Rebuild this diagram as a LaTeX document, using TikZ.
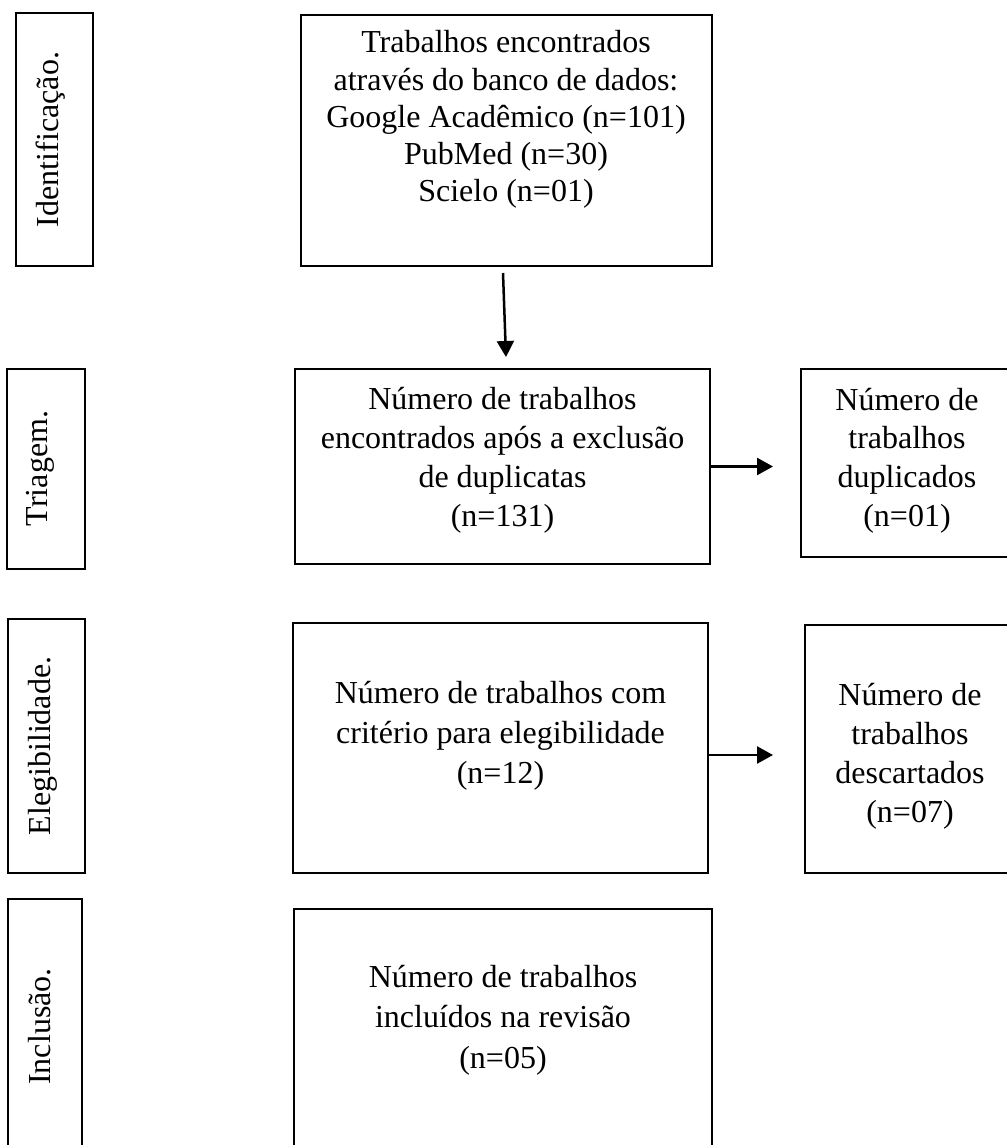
\documentclass[tikz,border=0pt]{standalone}
\usepackage{fontspec}
\setmainfont{Liberation Serif}
\usetikzlibrary{arrows.meta,calc}
\newcommand{\mylines}[1]{\begin{tabular}[t]{@{}c@{}}#1\end{tabular}}
\begin{document}
\begin{tikzpicture}[x=1pt,y=-1pt,
  box/.style={draw, line width=2pt, inner sep=0pt, outer sep=0pt, anchor=north west},
  lbl/.style={rotate=90, anchor=base, inner sep=0pt, font=\fontsize{32}{38}\selectfont},
  txt/.style={anchor=base, inner sep=0pt},
  arr/.style={line width=2.5pt, -{Triangle[length=16pt,width=17pt]}}]
\useasboundingbox (0,0) rectangle (1006,1145);
% stage boxes
\node[box, minimum width=77pt, minimum height=253pt] (idb) at (16,13) {};
\node[box, minimum width=78pt, minimum height=200pt] (trb) at (7,369) {};
\node[box, minimum width=77pt, minimum height=254pt] (elb) at (8,619) {};
\node[box, minimum width=74pt, minimum height=260pt] (inb) at (8,899) {};
\node[lbl] (idt) at (58,139.5) {Identificação.};
\node[lbl] (trt) at (47,468.5) {Triagem.};
\node[lbl] (elt) at (50,746) {Elegibilidade.};
\node[lbl] (int) at (50,1026.5) {Inclusão.};
% main boxes
\node[box, minimum width=411pt, minimum height=251pt] (topb) at (301,15) {};
\node[box, minimum width=415pt, minimum height=195pt] (box2) at (295,369) {};
\node[box, minimum width=215pt, minimum height=188pt] (dupb) at (801,369) {};
\node[box, minimum width=415pt, minimum height=250pt] (box3) at (293,623) {};
\node[box, minimum width=211pt, minimum height=248pt] (desb) at (805,625) {};
\node[box, minimum width=418pt, minimum height=250pt] (box4) at (294,909) {};
% texts
\node[txt, font=\fontsize{32}{37.2}\selectfont] (topt) at (506,53)
  {\mylines{Trabalhos encontrados\\através do banco de dados:\\Google Acadêmico (n=101)\\PubMed (n=30)\\Scielo (n=01)}};
\node[txt, font=\fontsize{32}{39.3}\selectfont] (box2t) at (502.5,409)
  {\mylines{Número de trabalhos\\encontrados após a exclusão\\de duplicatas\\(n=131)}};
\node[txt, font=\fontsize{32}{38.8}\selectfont] (dupt) at (907,410)
  {\mylines{Número de\\trabalhos\\duplicados\\(n=01)}};
\node[txt, font=\fontsize{32}{40}\selectfont] (box3t) at (500.5,703)
  {\mylines{Número de trabalhos com\\critério para elegibilidade\\(n=12)}};
\node[txt, font=\fontsize{32}{39}\selectfont] (dest) at (910,705)
  {\mylines{Número de\\trabalhos\\descartados\\(n=07)}};
\node[txt, font=\fontsize{32}{40.5}\selectfont] (box4t) at (503,987)
  {\mylines{Número de trabalhos\\incluídos na revisão\\(n=05)}};
% connectors
\draw[arr] ([shift={(-3.5,7)}]topb.south) -- ([shift={(3.5,-12)}]box2.north);
\coordinate (a2e) at ([xshift=-28pt]dupb.west |- box2.east);
\draw[arr] (box2.east) -- (a2e);
\coordinate (a3s) at ([shift={(0,7)}]box3.east);
\coordinate (a3e) at ([xshift=-32pt]desb.west |- a3s);
\draw[arr] (a3s) -- (a3e);
\end{tikzpicture}
\end{document}
